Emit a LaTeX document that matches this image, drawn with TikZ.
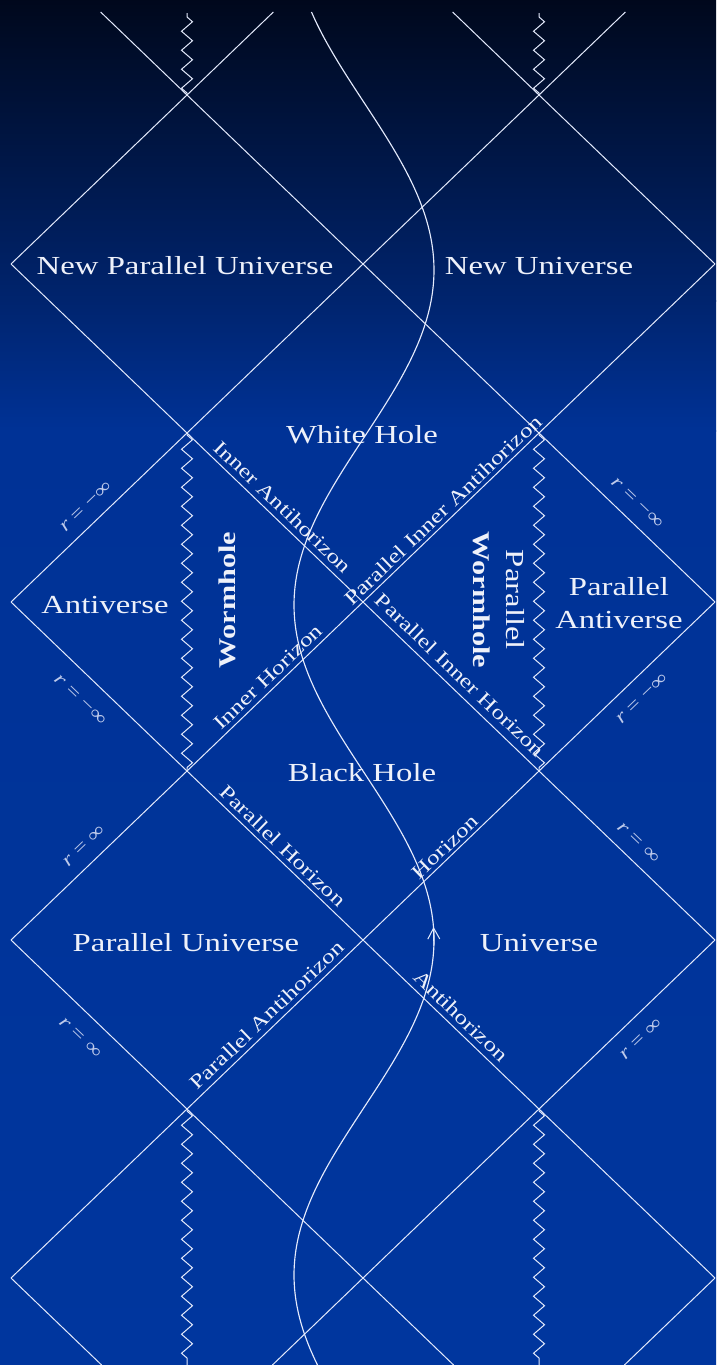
\documentclass[tikz,border=0pt]{standalone}
\usepackage{fontspec}
\setmainfont{Liberation Serif}
\newfontfamily\lblfont[FakeStretch=1.26]{Liberation Serif}
\usetikzlibrary{decorations.pathmorphing,arrows.meta}
\definecolor{bgA}{RGB}{0,8,28}
\definecolor{bgB}{RGB}{0,36,110}
\definecolor{bgC}{RGB}{0,50,150}
\definecolor{bgD}{RGB}{0,54,158}
\definecolor{lineclr}{RGB}{228,234,252}
\definecolor{txtclr}{RGB}{238,241,250}
\definecolor{rclr}{RGB}{190,202,235}
\tikzset{
  edge/.style={draw=lineclr, line width=1pt},
  sing/.style={draw=lineclr, line width=1pt, decorate,
    decoration={zigzag, segment length=19pt, amplitude=5.5pt, pre length=2pt, post length=2pt}},
  region/.style={text=txtclr, font=\lblfont\fontsize{26}{33}\selectfont, inner sep=0pt, align=center},
  worm/.style={text=txtclr, font=\lblfont\bfseries\fontsize{24}{30}\selectfont, inner sep=0pt, align=center},
  hor/.style={text=txtclr, font=\lblfont\fontsize{20}{24}\selectfont, inner sep=0pt},
  rlab/.style={text=rclr, font=\lblfont\fontsize{19}{22}\selectfont, inner sep=0pt},
}
\begin{document}
\begin{tikzpicture}[x=1pt,y=-1pt]
% background
\useasboundingbox (0,0) rectangle (716,1365);
\shade[top color=bgA, bottom color=bgB] (0,-1) rectangle (716,301);
\shade[top color=bgB, bottom color=bgC] (0,300) rectangle (716,431);
\shade[top color=bgC, bottom color=bgD] (0,430) rectangle (716,1366);

% lattice points
\foreach \i/\xx in {0/11,1/187,2/363,3/539,4/715}{
  \foreach \j/\yy in {0/95,1/264,2/433,3/602,4/771,5/940,6/1109,7/1278}{
    \coordinate (p\i\j) at (\xx,\yy);
  }
}
% open ends at top and bottom
\coordinate (t1) at (100.6,12);
\coordinate (t2) at (273.4,12);
\coordinate (t3) at (452.6,12);
\coordinate (t4) at (625.4,12);
\coordinate (b1) at (101.6,1365);
\coordinate (b2) at (272.4,1365);
\coordinate (b3) at (453.6,1365);
\coordinate (b4) at (624.4,1365);
\coordinate (wa1) at (187,13);
\coordinate (wb1) at (539,13);
\coordinate (wa7) at (187,1365);
\coordinate (wb7) at (539,1365);

% descending null lines
\draw[edge] (t1) -- (p10) -- (p21) -- (p32) -- (p43);
\draw[edge] (t3) -- (p30) -- (p41);
\draw[edge] (p01) -- (p12) -- (p23) -- (p34) -- (p45);
\draw[edge] (p03) -- (p14) -- (p25) -- (p36) -- (p47);
\draw[edge] (p05) -- (p16) -- (p27) -- (b3);
\draw[edge] (p07) -- (b1);
% ascending null lines
\draw[edge] (p01) -- (p10) -- (t2);
\draw[edge] (p03) -- (p12) -- (p21) -- (p30) -- (t4);
\draw[edge] (p05) -- (p14) -- (p23) -- (p32) -- (p41);
\draw[edge] (p07) -- (p16) -- (p25) -- (p34) -- (p43);
\draw[edge] (b2) -- (p27) -- (p36) -- (p45);
\draw[edge] (b4) -- (p47);

% singularities
\draw[sing] (p10) -- (wa1);
\draw[sing] (p30) -- (wb1);
\draw[sing] (p12) -- (p14);
\draw[sing] (p32) -- (p34);
\draw[sing] (p16) -- (wa7);
\draw[sing] (p36) -- (wb7);

% worldline
\draw[edge, line width=1.15pt] plot[domain=12:1365, samples=160, smooth] ({364+70*cos(0.537313*(\x-270))}, {\x});
\coordinate (arrA) at (433.9,946);
\coordinate (arrB) at (433.6,927);
\draw[edge, line width=1.15pt, -{Straight Barb[length=11pt,width=12pt,line width=1pt]}] (arrA) -- (arrB);

% region labels
\node[region] (npu) at (185,266) {New Parallel Universe};
\node[region] (nu) at (539,266) {New Universe};
\node[region] (wh) at (362,435) {White Hole};
\node[region] (bh) at (362,773) {Black Hole};
\node[region] (av) at (105,605) {Antiverse};
\node[region] (pav) at (619,603) {Parallel\\Antiverse};
\node[region] (pu) at (186,943) {Parallel Universe};
\node[region] (u) at (539,943) {Universe};
\node[worm, rotate=90] (wo) at (227,600) {Wormhole};
\node[region, rotate=-90] (pwo) at (499,600) {Parallel\\{\bfseries\fontsize{24}{30}\selectfont Wormhole}};

% horizon labels
\node[hor, rotate=-43.8] (ia) at (283,507) {Inner Antihorizon};
\node[hor, rotate=43.8] (pia) at (443,510) {Parallel Inner Antihorizon};
\node[hor, rotate=-43.8] (pih) at (460,675) {Parallel Inner Horizon};
\node[hor, rotate=43.8] (ih) at (268,677) {Inner Horizon};
\node[hor, rotate=-43.8] (ph) at (283,846) {Parallel Horizon};
\node[hor, rotate=43.8] (h) at (445,847) {Horizon};
\node[hor, rotate=43.8] (pa) at (267,1015) {Parallel Antihorizon};
\node[hor, rotate=-43.8] (a) at (461,1016) {Antihorizon};

% infinity labels
\node[rlab, rotate=43.8] (r1) at (86,507) {\textit{r} = −∞};
\node[rlab, rotate=-43.8] (r2) at (80,700) {\textit{r} = −∞};
\node[rlab, rotate=-43.8] (r3) at (637,503) {\textit{r} = −∞};
\node[rlab, rotate=43.8] (r4) at (642,699) {\textit{r} = −∞};
\node[rlab, rotate=43.8] (r5) at (84,846) {\textit{r} = ∞};
\node[rlab, rotate=-43.8] (r6) at (80,1038) {\textit{r} = ∞};
\node[rlab, rotate=-43.8] (r7) at (638,843) {\textit{r} = ∞};
\node[rlab, rotate=43.8] (r8) at (641,1039) {\textit{r} = ∞};
\end{tikzpicture}
\end{document}
